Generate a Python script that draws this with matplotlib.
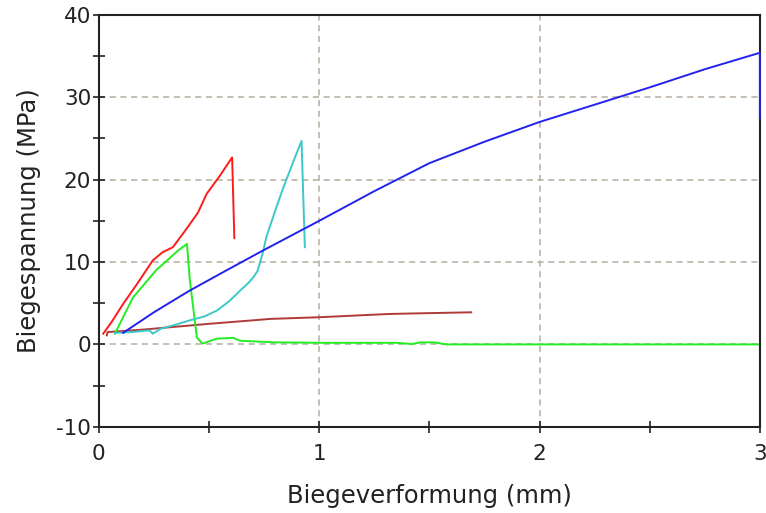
import matplotlib
matplotlib.use("Agg")
import matplotlib.pyplot as plt
from matplotlib.ticker import MultipleLocator

plt.rcParams["axes.unicode_minus"] = False

# Biegeverformung (mm) / Biegespannung (MPa)
rot_x = [0.02, 0.06, 0.11, 0.17, 0.245, 0.29, 0.336, 0.40, 0.45, 0.49, 0.55, 0.605, 0.615]
rot_y = [1.3, 2.8, 4.9, 7.2, 10.2, 11.2, 11.8, 14.1, 16.0, 18.3, 20.5, 22.7, 12.9]

gruen_x = [0.073, 0.155, 0.26, 0.36, 0.40, 0.413, 0.445, 0.47, 0.535, 0.61, 0.64,
           0.8, 1.0, 1.2, 1.35, 1.42, 1.46, 1.52, 1.58, 2.0, 2.5, 3.0]
gruen_y = [1.3, 5.7, 9.0, 11.4, 12.2, 7.8, 0.85, 0.1, 0.7, 0.8, 0.45,
           0.25, 0.2, 0.2, 0.2, 0.05, 0.25, 0.25, 0.0, 0.0, 0.0, 0.0]

blau_x = [0.11, 0.25, 0.41, 0.58, 0.745, 1.0, 1.25, 1.5, 1.75, 2.0, 2.25, 2.5, 2.75, 3.0, 3.0]
blau_y = [1.4, 3.9, 6.5, 9.0, 11.4, 15.0, 18.6, 22.0, 24.6, 27.0, 29.1, 31.2, 33.4, 35.4, 27.5]

tuerkis_x = [0.073, 0.15, 0.23, 0.245, 0.28, 0.35, 0.41, 0.48, 0.535, 0.59, 0.64,
             0.68, 0.70, 0.72, 0.73, 0.745, 0.76, 0.80, 0.837, 0.88, 0.92, 0.935]
tuerkis_y = [1.4, 1.5, 1.7, 1.3, 1.9, 2.4, 2.9, 3.4, 4.1, 5.2, 6.5,
             7.5, 8.1, 8.9, 9.8, 11.2, 13.0, 16.2, 19.0, 22.0, 24.7, 11.8]

braun_x = [0.036, 0.04, 0.2, 0.5, 0.78, 1.0, 1.32, 1.5, 1.69]
braun_y = [1.1, 1.5, 1.8, 2.5, 3.1, 3.3, 3.7, 3.8, 3.9]

fig = plt.figure(figsize=(7.66, 5.13), dpi=100)
ax = fig.add_axes([0.129, 0.168, 0.863, 0.803])

ax.plot(braun_x, braun_y, color="#b03a3a", lw=1.4)
ax.plot(gruen_x, gruen_y, color="#22ee22", lw=1.4)
ax.plot(tuerkis_x, tuerkis_y, color="#3cc8c8", lw=1.4)
ax.plot(rot_x, rot_y, color="#ff1a1a", lw=1.4)
# Bruch bei 3 mm liegt auf dem Rahmen -> ueber den Spines zeichnen
ax.plot(blau_x, blau_y, color="#2222ee", lw=1.4, zorder=3, clip_on=False)

ax.set_xlim(0, 3)
ax.set_ylim(-10, 40)
ax.xaxis.set_major_locator(MultipleLocator(1))
ax.xaxis.set_minor_locator(MultipleLocator(0.5))
ax.yaxis.set_major_locator(MultipleLocator(10))
ax.yaxis.set_minor_locator(MultipleLocator(5))

ax.grid(True, which="major", color="#b5ae9e", ls=(0, (4, 3)), lw=1.1)
ax.set_axisbelow(True)

for s in ax.spines.values():
    s.set_linewidth(1.5)
    s.set_color("#222222")

ax.tick_params(which="both", direction="inout", length=9, width=1.2,
               colors="#222222", labelsize=15.5)
ax.tick_params(axis="x", which="both", pad=8)
ax.tick_params(axis="y", which="both", pad=1)

ax.set_xlabel("Biegeverformung (mm)", fontsize=17.5, color="#222222", labelpad=14)
ax.set_ylabel("Biegespannung (MPa)", fontsize=17.5, color="#222222", labelpad=11)

fig.savefig("out.png", dpi=100)
